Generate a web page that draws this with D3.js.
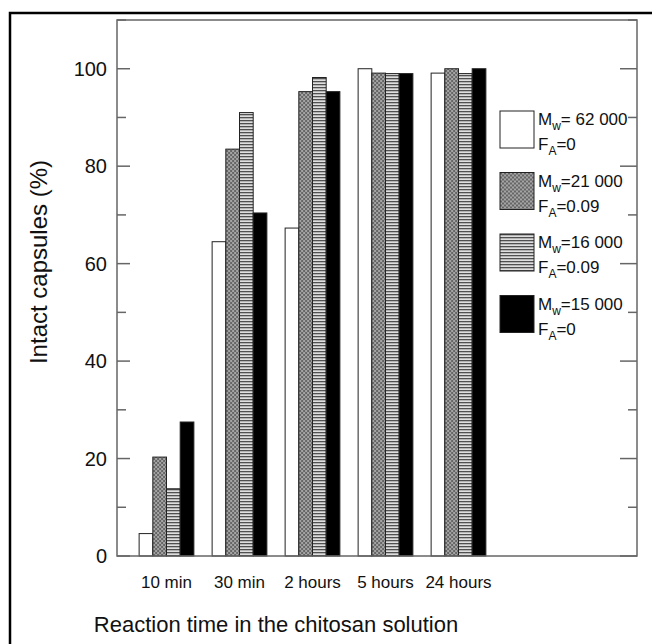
<!DOCTYPE html>
<meta charset="utf-8">
<style>
body {
  margin: 0;
  background: #fff;
}
text {
  font-family: "Liberation Sans", Arial, sans-serif;
  fill: #111;
}
.frame {
  fill: none;
  stroke: #000;
  stroke-width: 2.5px;
}
.plotframe {
  fill: none;
  stroke: #666;
  stroke-width: 1.5px;
}
.ticks line {
  stroke: #666;
  stroke-width: 1.5px;
}
.bar {
  stroke: #222;
  stroke-width: 1px;
}
</style>
<body>
<script src="https://d3js.org/d3.v7.min.js"></script>
<script>

var width = 652,
    height = 644;

// data
var times = ["10 min", "30 min", "2 hours", "5 hours", "24 hours"];
var seriesNames = ["mw62", "mw21", "mw16", "mw15"];
var mw62 = [4.6, 64.5, 67.3, 100, 99.1];
var mw21 = [20.3, 83.5, 95.3, 99.1, 100];
var mw16 = [13.8, 91, 98.2, 99, 99];
var mw15 = [27.5, 70.4, 95.3, 99, 100];
var legendMw = ["= 62 000", "=21 000", "=16 000", "=15 000"];
var legendFa = ["=0", "=0.09", "=0.09", "=0"];
var yTicks = [0, 20, 40, 60, 80, 100];

var values = {mw62: mw62, mw21: mw21, mw16: mw16, mw15: mw15};

var plotLeft = 117, plotRight = 637, plotTop = 20, plotBottom = 556;

var svg = d3.select("body").append("svg")
    .attr("width", width)
    .attr("height", height);

var defs = svg.append("defs");

// gray checker texture
var checker = defs.append("pattern")
    .attr("id", "checker")
    .attr("patternUnits", "userSpaceOnUse")
    .attr("width", 4).attr("height", 4);
checker.append("rect").attr("width", 4).attr("height", 4).attr("fill", "#a4a4a4");
checker.append("rect").attr("width", 2).attr("height", 2).attr("fill", "#666");
checker.append("rect").attr("x", 2).attr("y", 2).attr("width", 2).attr("height", 2).attr("fill", "#666");

// horizontal stripes
var stripes = defs.append("pattern")
    .attr("id", "stripes")
    .attr("patternUnits", "userSpaceOnUse")
    .attr("width", 4).attr("height", 3);
stripes.append("rect").attr("width", 4).attr("height", 3).attr("fill", "#dedede");
stripes.append("rect").attr("width", 4).attr("height", 1.3).attr("fill", "#505050");

var fills = {mw62: "#fff", mw21: "url(#checker)", mw16: "url(#stripes)", mw15: "#000"};

svg.append("rect")
    .attr("class", "frame")
    .attr("x", 10).attr("y", 13)
    .attr("width", 700).attr("height", 700);

var x = d3.scaleBand()
    .domain(times)
    .range([130, 495])
    .paddingInner(0.25)
    .paddingOuter(0.125);

var x1 = d3.scaleBand()
    .domain(seriesNames)
    .range([0, x.bandwidth()]);

var y = d3.scaleLinear()
    .domain([0, 110])
    .range([plotBottom, plotTop]);

// bars
var groups = svg.selectAll(".group")
    .data(times)
  .enter().append("g")
    .attr("class", "group")
    .attr("transform", function(d) { return "translate(" + x(d) + ",0)"; });

groups.selectAll("rect")
    .data(function(d, i) {
      return seriesNames.map(function(s) { return {s: s, v: values[s][i]}; });
    })
  .enter().append("rect")
    .attr("class", "bar")
    .attr("x", function(d) { return x1(d.s); })
    .attr("width", x1.bandwidth())
    .attr("y", function(d) { return y(d.v); })
    .attr("height", function(d) { return plotBottom - y(d.v); })
    .attr("fill", function(d) { return fills[d.s]; });

// ticks point inward on both sides
var minor = d3.range(0, 111, 10);

svg.append("g")
    .attr("class", "ticks")
    .selectAll("line")
    .data(minor)
  .enter().append("line")
    .attr("x1", plotLeft).attr("x2", function(d) { return plotLeft + (d % 20 == 0 ? 13 : 9); })
    .attr("y1", function(d) { return y(d); }).attr("y2", function(d) { return y(d); });

svg.append("g")
    .attr("class", "ticks")
    .selectAll("line")
    .data(minor)
  .enter().append("line")
    .attr("x1", plotRight).attr("x2", function(d) { return plotRight - (d % 20 == 0 ? 17 : 9); })
    .attr("y1", function(d) { return y(d); }).attr("y2", function(d) { return y(d); });

svg.append("rect")
    .attr("class", "plotframe")
    .attr("x", plotLeft).attr("y", plotTop)
    .attr("width", plotRight - plotLeft).attr("height", plotBottom - plotTop);

svg.selectAll(".ylab")
    .data(yTicks)
  .enter().append("text")
    .attr("class", "ylab")
    .attr("x", 107)
    .attr("y", function(d) { return y(d) + 7; })
    .attr("text-anchor", "end")
    .style("font-size", "20px")
    .text(function(d) { return d; });

svg.selectAll(".xlab")
    .data(times)
  .enter().append("text")
    .attr("class", "xlab")
    .attr("x", function(d) { return x(d) + x.bandwidth() / 2; })
    .attr("y", 588)
    .attr("text-anchor", "middle")
    .style("font-size", "17px")
    .text(function(d) { return d; });

svg.append("text")
    .attr("x", 276)
    .attr("y", 632)
    .attr("text-anchor", "middle")
    .style("font-size", "22px")
    .text("Reaction time in the chitosan solution");

svg.append("text")
    .attr("transform", "translate(47,262) rotate(-90)")
    .attr("text-anchor", "middle")
    .style("font-size", "24px")
    .text("Intact capsules (%)");

// legend
var legend = svg.selectAll(".legend")
    .data(seriesNames)
  .enter().append("g")
    .attr("class", "legend")
    .attr("transform", function(d, i) { return "translate(500," + (111 + i * 61.5) + ")"; });

legend.append("rect")
    .attr("class", "bar")
    .attr("width", 34).attr("height", 37)
    .attr("fill", function(d) { return fills[d]; });

var t1 = legend.append("text")
    .attr("x", 38).attr("y", 14)
    .style("font-size", "17px");
t1.append("tspan").text("M");
t1.append("tspan").attr("dy", 5).style("font-size", "12px").text("w");
t1.append("tspan").attr("dy", -5).text(function(d, i) { return legendMw[i]; });

var t2 = legend.append("text")
    .attr("x", 38).attr("y", 39)
    .style("font-size", "17px");
t2.append("tspan").text("F");
t2.append("tspan").attr("dy", 5).style("font-size", "12px").text("A");
t2.append("tspan").attr("dy", -5).text(function(d, i) { return legendFa[i]; });

</script>
